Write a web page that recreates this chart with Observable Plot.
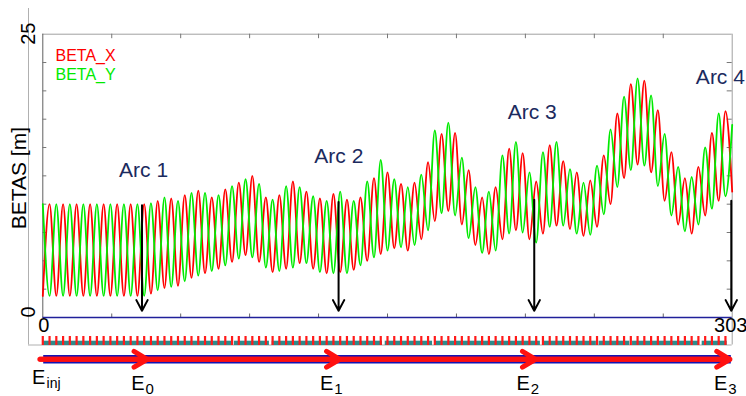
<!DOCTYPE html>
<html><head><meta charset="utf-8">
<script src="https://cdn.jsdelivr.net/npm/d3@7"></script>
<script src="https://cdn.jsdelivr.net/npm/@observablehq/plot@0.6"></script>
<style>
html,body{margin:0;padding:0;background:#fff;}
#chart svg{display:block;overflow:visible;}
</style></head><body><div id="chart"></div>
<script>
// ---- data ----
const sMax = 303;                 // ring length [m]
const nHalfCells = 102;           // beta extrema sit at every half FODO cell
// BETA_X extrema (trough / peak alternating), one per half cell
const betaX = [
  1.9,10.0,1.9,10.0,1.9,10.0,1.9,10.0,1.9,10.0,1.9,10.0,1.9,10.0,1.9,10.0,
  2.1,10.3,2.6,10.5,2.8,10.8,3.5,11.2,3.9,10.6,4.3,11.3,4.9,11.9,5.5,12.5,
  4.9,10.6,4.0,10.8,4.3,12.0,4.8,11.1,4.3,10.5,3.9,10.9,4.0,10.4,4.2,10.6,
  5.0,12.3,5.6,12.8,6.1,11.8,5.9,11.9,6.9,13.7,8.5,16.2,9.4,16.3,8.2,13.0,
  6.4,10.6,5.6,11.5,6.9,14.9,7.7,14.5,6.9,12.0,7.4,15.2,8.1,13.8,7.8,12.8,
  7.2,12.1,8.0,14.3,10.0,18.0,12.3,20.6,13.5,20.9,12.8,18.3,10.3,14.6,8.2,12.3,
  7.4,13.3,9.0,16.3,10.3,18.2,11.1
];
// BETA_Y extrema (peak / trough alternating), one per half cell
const betaY = [
  10.0,1.9,10.0,1.9,10.0,1.9,10.0,1.9,10.0,1.9,10.0,1.9,10.0,1.9,10.0,1.9,
  10.1,2.4,10.6,2.7,10.3,3.2,11.0,3.7,11.0,4.1,10.8,4.6,11.6,5.2,12.2,5.3,
  11.8,4.4,10.4,4.1,11.6,4.4,11.5,4.8,10.7,4.0,10.3,3.9,11.1,3.9,10.3,4.6,
  12.0,5.3,13.9,5.9,12.2,6.2,11.5,6.4,12.6,7.7,16.5,9.2,17.2,9.0,14.1,7.0,
  11.5,5.7,11.1,5.9,14.3,7.4,15.5,7.5,12.8,6.6,14.6,8.0,15.5,8.1,13.1,7.4,
  11.9,7.3,13.4,9.1,16.6,11.5,19.5,13.0,21.1,13.4,19.6,11.6,16.2,9.0,13.3,7.6,
  12.4,8.2,15.0,9.6,18.0,10.7,17.0
];
const seriesNames = ["BETA_X", "BETA_Y"];
const yLabel = "BETAS [m]";
const yTickValues = [2.5,5,7.5,10,12.5,15,17.5,20,22.5];
const xTickValues = [30.3,60.6,90.9,121.2,151.5,181.8,212.1,242.4,272.7];
const yTickLabels = [25, 0];
const xTickLabels = [0, 303];
// arcs
const arcNames = ["Arc 1", "Arc 2", "Arc 3", "Arc 4"];
const arcLabelS = [44.3, 130.1, 215.1, 297.8];
const arcLabelBeta = [12.4, 13.6, 17.5, 20.6];
const arcArrowS = [43.6, 130.0, 216.0, 302.6];
const arcArrowTop = [9.9, 10.2, 10.4, 10.3];
const arcArrowTip = 0.6;
// lattice: dipole segments (start/end in m)
const dipoleStart = [0.3, 84.2, 100.8, 150.5, 172.5, 219.9, 244.5, 259.2, 289.8];
const dipoleEnd   = [83.0, 99.6, 149.3, 171.3, 218.7, 243.3, 258.0, 288.6, 300.8];
// energy line
const energyLineStart = -1.3, energyLineEnd = 302.6;
const energyTipS = [45.9, 130.5, 216.6, 302.0];
const energyLabelS = [-4.7, 38.9, 121.8, 208.2, 295.0];
const energySub = ["inj", "0", "1", "2", "3"];

// ---- build tables ----
const sHalf = d3.range(nHalfCells + 1).map(j => j * sMax / nHalfCells);
const rowsX = betaX.map((b, j) => ({s: sHalf[j], beta: b}));
const rowsY = betaY.map((b, j) => ({s: sHalf[j], beta: b}));
const quadS = sHalf.slice(0, nHalfCells);
const dipoles = dipoleStart.map((a, i) => ({a, b: dipoleEnd[i]}));
const arcs = arcNames.map((n, i) => ({n, s: arcLabelS[i], b: arcLabelBeta[i], as: arcArrowS[i], top: arcArrowTop[i]}));
const tips = energyTipS.map((t, i) => ({from: i === 0 ? energyLineStart : energyTipS[i - 1], to: t}));
const eLabels = energySub.map((sub, i) => ({s: energyLabelS[i], sub, inj: i === 0}));

const W = 746, H = 396;
const mL = 42.3, mR = 14.3, mT = 33.7, mB = 79;
const fw = W - mL - mR, fh = H - mT - mB;   // frame 42.3..731.7 x 33.7..317
const font = "Liberation Sans, Arial, sans-serif";
const red = "#ff0000", green = "#00ea00", navy = "#1b2a5e";
// pixel offsets below the frame bottom (317)
const below = px => px - (mT + fh);

const chart = Plot.plot({
  width: W, height: H,
  marginLeft: mL, marginRight: mR, marginTop: mT, marginBottom: mB,
  style: {fontFamily: font, background: "#fff", overflow: "visible"},
  x: {domain: [0, sMax], axis: null},
  y: {domain: [0, 25], axis: null},
  marks: [
    // outer gray frame of lattice panel
    Plot.ruleX([0], {dx: -14.3, insetTop: -25.7, insetBottom: -27.5, stroke: "#b0b0b0"}),
    Plot.ruleY([0], {dy: 27.5, insetLeft: -14.3, stroke: "#b0b0b0"}),
    Plot.ruleX([sMax], {insetBottom: -27.5, stroke: "#a0a0a0"}),
    Plot.ruleY([25], {stroke: "#a0a0a0"}),
    Plot.ruleX([0], {stroke: "#606060"}),
    // ticks
    Plot.tickY(yTickValues, {y: d => d, insetRight: fw - 4, stroke: "#777"}),
    Plot.tickY(yTickValues, {y: d => d, insetLeft: fw - 5, stroke: "#777"}),
    Plot.tickX(xTickValues, {x: d => d, insetBottom: fh - 4.5, stroke: "#777"}),
    Plot.tickX(xTickValues, {x: d => d, insetTop: fh - 3.5, stroke: "#666"}),
    Plot.ruleY([0], {stroke: "#20209a", strokeWidth: 1.5}),
    // lattice strip (teal dipoles 340.7..345, red quads 336..345)
    Plot.rect(dipoles, {x1: "a", x2: "b", insetTop: fh + below(340.7), insetBottom: -below(345), fill: "#2e8b8b"}),
    Plot.ruleX(quadS, {x: d => d, insetTop: fh + below(336), insetBottom: -below(345), stroke: "#ff1a1a", strokeWidth: 2.2}),
    // energy line (blue 355..363.3, red centred 359.2)
    Plot.rect([0], {x1: () => 0.4, x2: () => energyLineEnd, insetTop: fh + below(355), insetBottom: -below(363.5), fill: "#1414b4"}),
    Plot.ruleY([0], {x1: () => energyLineStart, x2: () => energyLineEnd, dy: below(358.8), stroke: "#ff1010", strokeWidth: 5}),
    Plot.arrow(tips, {x1: "from", x2: "to", y1: () => 0, y2: () => 0, dy: below(358.8), stroke: "#ff1010", strokeWidth: 5, headLength: 4.6, headAngle: 62}),
    // beta functions
    Plot.line(rowsX, {x: "s", y: "beta", stroke: red, strokeWidth: 1.8, curve: "monotone-x"}),
    Plot.line(rowsY, {x: "s", y: "beta", stroke: green, strokeWidth: 1.8, curve: "monotone-x"}),
    // arc arrows and labels
    Plot.arrow(arcs, {x1: "as", x2: "as", y1: "top", y2: () => arcArrowTip, stroke: "#000", strokeWidth: 2, headLength: 9, headAngle: 56}),
    Plot.text(arcs, {x: "s", y: "b", text: "n", fill: navy, fontSize: 21, lineAnchor: "bottom", textAnchor: "middle"}),
    // legend
    Plot.text([seriesNames[0]], {frameAnchor: "top-left", dx: 12.7, dy: 26.3, lineAnchor: "bottom", textAnchor: "start", fill: red, fontSize: 16}),
    Plot.text([seriesNames[1]], {frameAnchor: "top-left", dx: 12.7, dy: 45.6, lineAnchor: "bottom", textAnchor: "start", fill: green, fontSize: 16}),
    // axis labels
    Plot.text([yLabel], {frameAnchor: "left", dx: -23.1, dy: 2.3, rotate: -90, textAnchor: "middle", lineAnchor: "middle", fontSize: 21, fill: "#000"}),
    Plot.text([yTickLabels[0]], {y: d => d, frameAnchor: "left", dx: -14.5, dy: -0.5, rotate: -90, textAnchor: "middle", lineAnchor: "middle", fontSize: 20, fill: "#000"}),
    Plot.text([yTickLabels[1]], {y: d => d, frameAnchor: "left", dx: -14.5, dy: -5.5, rotate: -90, textAnchor: "middle", lineAnchor: "middle", fontSize: 20, fill: "#000"}),
    Plot.text([xTickLabels[0]], {x: d => d, frameAnchor: "bottom", dx: 1, dy: 8.5, textAnchor: "middle", lineAnchor: "middle", fontSize: 20, fill: "#000"}),
    Plot.text([xTickLabels[1]], {x: d => d, frameAnchor: "bottom", dx: -1.5, dy: 8.5, textAnchor: "middle", lineAnchor: "middle", fontSize: 20, fill: "#000"}),
    // energy labels
    Plot.text(eLabels, {filter: d => d.inj, x: "s", text: () => "E", frameAnchor: "bottom", dy: below(383.5), lineAnchor: "bottom", textAnchor: "start", fontSize: 20, fill: "#000"}),
    Plot.text(eLabels, {filter: d => !d.inj, x: "s", text: () => "E", frameAnchor: "bottom", dy: below(389), lineAnchor: "bottom", textAnchor: "start", fontSize: 20, fill: "#000"}),
    Plot.text(eLabels, {filter: d => d.inj, x: "s", text: "sub", frameAnchor: "bottom", dx: 14.5, dy: below(387), lineAnchor: "bottom", textAnchor: "start", fontSize: 14, fill: "#000"}),
    Plot.text(eLabels, {filter: d => !d.inj, x: "s", text: "sub", frameAnchor: "bottom", dx: 14.3, dy: below(393), lineAnchor: "bottom", textAnchor: "start", fontSize: 15, fill: "#000"})
  ]
});
document.getElementById("chart").appendChild(chart);
</script></body></html>
